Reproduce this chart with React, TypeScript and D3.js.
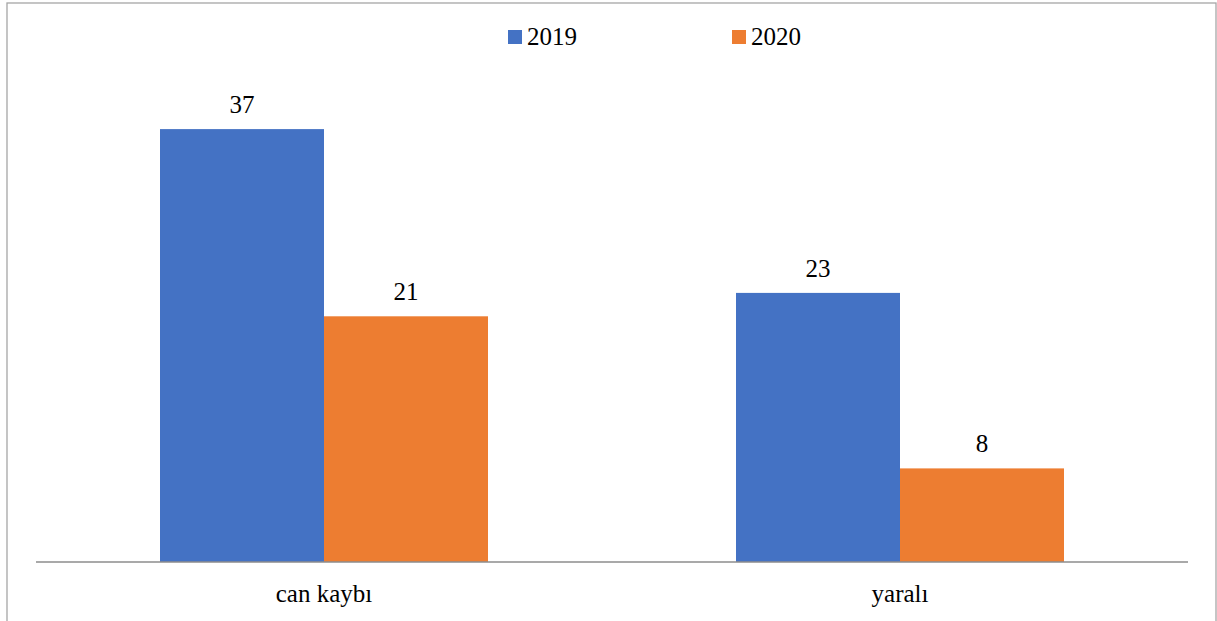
import React, { useEffect, useRef } from "react";
import * as d3 from "d3";

const categories = ["can kaybı", "yaralı"];
const seriesNames = ["2019", "2020"];
const values2019 = [37, 23];
const values2020 = [21, 8];
const colors = ["#4472C4", "#ED7D31"];

const W = 1217;
const H = 621;
const plot = { left: 36, right: 1188, top: 94, bottom: 562 };
const FF = "Liberation Serif";

export default function App() {
  const ref = useRef<SVGSVGElement>(null);
  useEffect(() => {
    const svg = d3.select(ref.current);
    svg.selectAll("*").remove();
    const series = [values2019, values2020];
    const x0 = d3.scaleBand().domain(categories).range([plot.left, plot.right]).padding(0);
    const groupW = x0.bandwidth() * (328 / 576);
    const x1 = d3.scaleBand().domain(seriesNames).range([0, groupW]).padding(0);
    const y = d3.scaleLinear().domain([0, 40]).range([plot.bottom, plot.top]);

    svg.append("rect").attr("x", 7).attr("y", 3).attr("width", 1209).attr("height", 640)
      .attr("fill", "#fff").attr("stroke", "#A6A6A6").attr("stroke-width", 1.3);

    categories.forEach((c, ci) => {
      const gx = (x0(c) as number) + (x0.bandwidth() - groupW) / 2;
      seriesNames.forEach((s, si) => {
        const v = series[si][ci];
        const bx = gx + (x1(s) as number);
        svg.append("rect").attr("x", bx).attr("y", y(v)).attr("width", x1.bandwidth())
          .attr("height", plot.bottom - y(v)).attr("fill", colors[si]);
        svg.append("text").attr("x", bx + x1.bandwidth() / 2).attr("y", y(v) - 16)
          .attr("text-anchor", "middle").style("font-family", FF).style("font-size", "25px")
          .attr("fill", "#000").text(String(v));
      });
      svg.append("text").attr("x", (x0(c) as number) + x0.bandwidth() / 2).attr("y", 602)
        .attr("text-anchor", "middle").style("font-family", FF).style("font-size", "25px")
        .attr("fill", "#000").text(c);
    });

    svg.append("line").attr("x1", plot.left).attr("x2", plot.right)
      .attr("y1", plot.bottom).attr("y2", plot.bottom)
      .attr("stroke", "#8C8C8C").attr("stroke-width", 1.5);

    seriesNames.forEach((s, i) => {
      const lx = 508 + i * 224;
      svg.append("rect").attr("x", lx).attr("y", 30).attr("width", 14).attr("height", 14).attr("fill", colors[i]);
      svg.append("text").attr("x", lx + 19).attr("y", 45)
        .style("font-family", FF).style("font-size", "25px").attr("fill", "#000").text(s);
    });
  }, []);

  return <svg ref={ref} width={W} height={H} style={{ position: "absolute", left: 0, top: 0, background: "#fff" }} />;
}
